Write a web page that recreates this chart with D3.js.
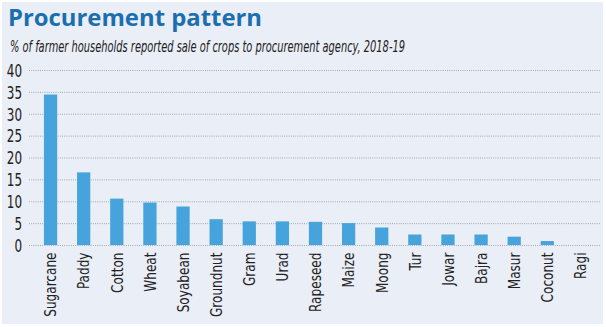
<!DOCTYPE html>
<html><head><meta charset="utf-8">
<script src="https://cdn.jsdelivr.net/npm/d3@7"></script>
<style>
body{margin:0;background:#fff;}
svg{display:block;}
</style></head>
<body><svg id="c" width="606" height="327"></svg>
<script>
const crops = ["Sugarcane","Paddy","Cotton","Wheat","Soyabean","Groundnut","Gram","Urad","Rapeseed","Maize","Moong","Tur","Jowar","Bajra","Masur","Coconut","Ragi"];
const values = [34.4,16.6,10.6,9.7,8.8,5.9,5.4,5.4,5.3,5.0,4.0,2.4,2.4,2.4,1.9,0.9,0];
const yTicks = [0,5,10,15,20,25,30,35,40];
const title = "Procurement pattern";
const subtitle = "% of farmer households reported sale of crops to procurement agency, 2018-19";

const svg = d3.select("#c");
const narrow = "'DejaVu Sans Condensed','Liberation Sans Narrow',sans-serif";
svg.append("rect").attr("x",2).attr("y",2).attr("width",601).attr("height",322).attr("fill","#eaeef7");

svg.append("text").attr("x",8).attr("y",26).text(title)
  .attr("font-family","'Open Sans','Noto Sans',sans-serif").attr("font-weight",700)
  .attr("font-size",24).attr("fill","#1b6fae")
  .attr("textLength",254).attr("lengthAdjust","spacingAndGlyphs");
svg.append("text").attr("x",10).attr("y",52).text(subtitle)
  .attr("font-family",narrow).attr("font-style","italic").attr("font-size",16.5).attr("fill","#222")
  .attr("textLength",395).attr("lengthAdjust","spacingAndGlyphs");

const y = d3.scaleLinear().domain([0,40]).range([245,70]);
const x = d3.scaleBand().domain(crops).range([34,597]).paddingInner(0.6).paddingOuter(0.3);

// grid
const grid = svg.append("g").attr("transform","translate(29,0)")
  .call(d3.axisLeft(y).tickValues(yTicks).tickSize(-571).tickFormat(""));
grid.select(".domain").remove();
grid.selectAll("line").attr("stroke","#9aa0aa").attr("stroke-dasharray","1,1.2").attr("stroke-width",0.9);

// y labels
const ya = svg.append("g").attr("transform","translate(22,0)")
  .call(d3.axisLeft(y).tickValues(yTicks).tickSize(0).tickPadding(0));
ya.select(".domain").remove();
ya.selectAll("text").attr("font-family",narrow).attr("font-size",17.5).attr("fill","#222")
  .attr("dy","0.36em").attr("transform","scale(0.76,1)");

// bars
svg.append("g").selectAll("rect").data(crops).join("rect")
  .attr("x",d=>x(d)).attr("width",x.bandwidth())
  .attr("y",(d,i)=>y(values[i])).attr("height",(d,i)=>y(0)-y(values[i]))
  .attr("fill","#47a3dc");

// x labels
const xa = svg.append("g").attr("transform","translate(0,250)")
  .call(d3.axisBottom(x).tickSize(0).tickPadding(0));
xa.select(".domain").remove();
xa.selectAll("text").attr("font-family",narrow).attr("font-size",16).attr("fill","#222")
  .attr("transform","rotate(-90) scale(0.84,1)").attr("text-anchor","end").attr("dy","0.36em").attr("x",-3).attr("y",0);
</script></body></html>
